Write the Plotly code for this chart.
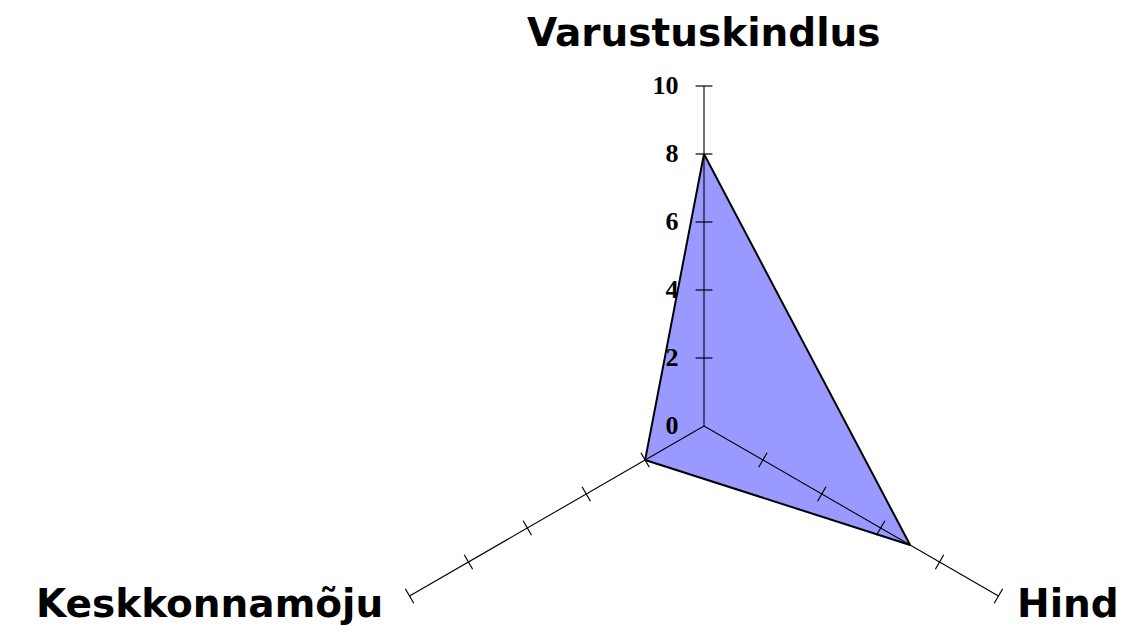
import plotly.graph_objects as go

# radar chart data
categories = ["Varustuskindlus", "Hind", "Keskkonnamõju"]
values = [8, 7, 2]
tick_values = [2, 4, 6, 8, 10]
r_max = 10

W, H = 1130, 633
PAGE_OFFSET = 8  # default body margin of the html page
margin = dict(l=364 - PAGE_OFFSET, t=86 - PAGE_OFFSET)
margin["r"] = W - margin["l"] - 680
margin["b"] = H - margin["t"] - 510


def to_paper(px, py):
    # screen pixel -> paper coords of the plot area
    px -= PAGE_OFFSET
    py -= PAGE_OFFSET
    x = (px - margin["l"]) / (W - margin["l"] - margin["r"])
    y = (H - margin["b"] - py) / (H - margin["t"] - margin["b"])
    return x, y


fig = go.Figure()

# filled polygon
fig.add_trace(go.Scatterpolar(
    r=values + values[:1],
    theta=categories + categories[:1],
    mode="lines",
    fill="toself",
    fillcolor="#9999FF",
    line=dict(color="black", width=2),
    cliponaxis=False,
    hoverinfo="skip",
))

# spokes drawn on top of the fill
spoke_r, spoke_t = [], []
for c in categories:
    spoke_r += [0, r_max, None]
    spoke_t += [c, c, None]
fig.add_trace(go.Scatterpolar(
    r=spoke_r, theta=spoke_t, mode="lines",
    line=dict(color="black", width=1.1),
    cliponaxis=False, hoverinfo="skip",
))

# tick marks crossing each spoke
tk_r, tk_t, tk_a = [], [], []
for i, c in enumerate(categories):
    theta_deg = 90 - 120 * i
    for v in tick_values:
        tk_r.append(v)
        tk_t.append(c)
        tk_a.append(-theta_deg)
fig.add_trace(go.Scatterpolar(
    r=tk_r, theta=tk_t, mode="markers",
    marker=dict(symbol="line-ns", size=12, angle=tk_a,
                line=dict(color="black", width=1.2)),
    cliponaxis=False, hoverinfo="skip",
))

fig.update_layout(
    width=W, height=H,
    margin=margin,
    paper_bgcolor="white",
    showlegend=False,
    polar=dict(
        bgcolor="white",
        sector=[-30, 210],
        angularaxis=dict(
            rotation=90, direction="clockwise",
            categoryorder="array", categoryarray=categories,
            showgrid=False, showline=False, ticks="",
            showticklabels=False,
        ),
        radialaxis=dict(
            range=[0, r_max], dtick=2, angle=90,
            side="counterclockwise",
            showgrid=False, showline=False,
            ticks="outside", ticklen=16, tickcolor="rgba(0,0,0,0)",
            tickangle=90,
            tickfont=dict(family="Liberation Serif", size=26, color="black", weight="bold"),
        ),
    ),
)

# category labels
label_font = dict(family="DejaVu Sans", size=39, color="black", weight="bold")
x, y = to_paper(704, 33)
fig.add_annotation(text=categories[0], x=x, y=y, xref="paper", yref="paper",
                   xanchor="center", yanchor="middle", showarrow=False, font=label_font)
x, y = to_paper(1015, 603)
fig.add_annotation(text=categories[1], x=x, y=y, xref="paper", yref="paper",
                   xanchor="left", yanchor="middle", showarrow=False, font=label_font)
x, y = to_paper(385, 603)
fig.add_annotation(text=categories[2], x=x, y=y, xref="paper", yref="paper",
                   xanchor="right", yanchor="middle", showarrow=False, font=label_font)

# the sector clip would cut the lower edge of the polygon (it lies below the centre)
unclip = "document.querySelectorAll('.polarlayer [clip-path]').forEach(function(e){e.removeAttribute('clip-path');});"

fig.write_html("out.html", post_script=unclip)
